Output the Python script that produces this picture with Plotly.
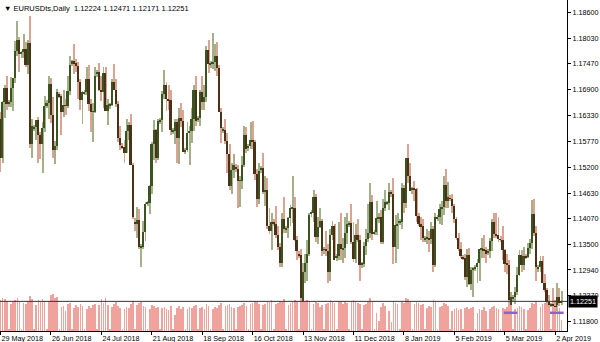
import pandas as pd
import plotly.graph_objects as go

# ---------------- data ----------------
symbol = "EURUSDts,Daily"
# daily bars (Sunday..Friday, broker has short Sunday sessions)
dates = [d for d in pd.date_range("2018-05-29", "2019-04-05", freq="D") if d.weekday() != 5]

opens = [
    1.1625, 1.1540, 1.1663, 1.1693,
    1.1660, 1.1662, 1.1694, 1.1715, 1.1775, 1.1799,
    1.1770, 1.1772, 1.1780, 1.1745, 1.1792, 1.1570,
    1.1605, 1.1608, 1.1624, 1.1590, 1.1570, 1.1605,
    1.1655, 1.1660, 1.1703, 1.1635, 1.1557, 1.1566,
    1.1680, 1.1676, 1.1642, 1.1656, 1.1655, 1.1688,
    1.1748, 1.1752, 1.1748, 1.1743, 1.1706, 1.1667,
    1.1682, 1.1684, 1.1713, 1.1658, 1.1641, 1.1641,
    1.1725, 1.1728, 1.1690, 1.1684, 1.1727, 1.1643,
    1.1655, 1.1657, 1.1707, 1.1690, 1.1659, 1.1585,
    1.1566, 1.1564, 1.1552, 1.1600, 1.1612, 1.1525,
    1.1400, 1.1395, 1.1404, 1.1344, 1.1345, 1.1377,
    1.1440, 1.1442, 1.1478, 1.1570, 1.1601, 1.1540,
    1.1620, 1.1624, 1.1680, 1.1700, 1.1670, 1.1667,
    1.1598, 1.1600, 1.1620, 1.1583, 1.1628, 1.1622,
    1.1555, 1.1558, 1.1595, 1.1600, 1.1625, 1.1690,
    1.1625, 1.1628, 1.1686, 1.1664, 1.1673, 1.1777,
    1.1745, 1.1748, 1.1750, 1.1765, 1.1738, 1.1640,
    1.1600, 1.1602, 1.1578, 1.1548, 1.1478, 1.1514,
    1.1520, 1.1515, 1.1490, 1.1490, 1.1525, 1.1590,
    1.1562, 1.1566, 1.1580, 1.1575, 1.1505, 1.1450,
    1.1515, 1.1518, 1.1465, 1.1470, 1.1390, 1.1380,
    1.1398, 1.1396, 1.1370, 1.1345, 1.1310, 1.1405,
    1.1383, 1.1386, 1.1408, 1.1430, 1.1430, 1.1360,
    1.1330, 1.1326, 1.1218, 1.1290, 1.1310, 1.1330,
    1.1418, 1.1420, 1.1455, 1.1367, 1.1388, 1.1402,
    1.1338, 1.1340, 1.1335, 1.1290, 1.1370, 1.1390,
    1.1320, 1.1325, 1.1350, 1.1340, 1.1342, 1.1375,
    1.1395, 1.1398, 1.1355, 1.1318, 1.1370, 1.1360,
    1.1305, 1.1308, 1.1347, 1.1362, 1.1376, 1.1444,
    1.1375, 1.1378, 1.1408, 1.1410, 1.1355, 1.1430,
    1.1440, 1.1442, 1.1466, 1.1460, 1.1344, 1.1392,
    1.1398, 1.1400, 1.1474, 1.1441, 1.1540, 1.1501,
    1.1470, 1.1472, 1.1471, 1.1412, 1.1394, 1.1390,
    1.1362, 1.1364, 1.1365, 1.1362, 1.1385, 1.1305,
    1.1408, 1.1410, 1.1428, 1.1433, 1.1480, 1.1445,
    1.1452, 1.1450, 1.1435, 1.1406, 1.1364, 1.1340,
    1.1322, 1.1320, 1.1278, 1.1327, 1.1263, 1.1295,
    1.1298, 1.1300, 1.1310, 1.1340, 1.1340, 1.1337,
    1.1332, 1.1335, 1.1357, 1.1400, 1.1373, 1.1370,
    1.1362, 1.1360, 1.1338, 1.1307, 1.1306, 1.1210,
    1.1232, 1.1234, 1.1246, 1.1284, 1.1327, 1.1305,
    1.1325, 1.1322, 1.1343, 1.1353, 1.1418, 1.1375,
    1.1298, 1.1300, 1.1313, 1.1265, 1.1250, 1.1223,
    1.1217, 1.1218, 1.1215, 1.1212, 1.1234, 1.12224,
]
highs = [
    1.1640, 1.1665, 1.1700, 1.1720,
    1.1668, 1.1717, 1.1716, 1.1796, 1.1840, 1.1806,
    1.1776, 1.1812, 1.1795, 1.1800, 1.1852, 1.1625,
    1.1612, 1.1624, 1.1629, 1.1598, 1.1620, 1.1677,
    1.1668, 1.1720, 1.1715, 1.1674, 1.1578, 1.1692,
    1.1686, 1.1680, 1.1690, 1.1670, 1.1720, 1.1765,
    1.1756, 1.1791, 1.1758, 1.1750, 1.1713, 1.1687,
    1.1690, 1.1740, 1.1745, 1.1670, 1.1660, 1.1740,
    1.1733, 1.1748, 1.1720, 1.1740, 1.1740, 1.1670,
    1.1661, 1.1713, 1.1747, 1.1713, 1.1665, 1.1610,
    1.1572, 1.1580, 1.1625, 1.1620, 1.1636, 1.1530,
    1.1408, 1.1433, 1.1428, 1.1350, 1.1402, 1.1444,
    1.1446, 1.1480, 1.1575, 1.1623, 1.1603, 1.1625,
    1.1628, 1.1688, 1.1733, 1.1706, 1.1700, 1.1690,
    1.1606, 1.1625, 1.1625, 1.1650, 1.1660, 1.1645,
    1.1562, 1.1620, 1.1610, 1.1650, 1.1700, 1.1720,
    1.1632, 1.1690, 1.1720, 1.1700, 1.1786, 1.1800,
    1.1752, 1.1815, 1.1790, 1.1795, 1.1745, 1.1650,
    1.1608, 1.1625, 1.1595, 1.1570, 1.1530, 1.1548,
    1.1526, 1.1525, 1.1500, 1.1545, 1.1610, 1.1607,
    1.1570, 1.1620, 1.1621, 1.1580, 1.1515, 1.1530,
    1.1522, 1.1550, 1.1500, 1.1495, 1.1430, 1.1420,
    1.1405, 1.1435, 1.1390, 1.1354, 1.1420, 1.1455,
    1.1390, 1.1410, 1.1437, 1.1500, 1.1455, 1.1368,
    1.1336, 1.1340, 1.1310, 1.1330, 1.1360, 1.1420,
    1.1425, 1.1470, 1.1460, 1.1410, 1.1430, 1.1405,
    1.1345, 1.1380, 1.1350, 1.1385, 1.1402, 1.1394,
    1.1330, 1.1400, 1.1420, 1.1365, 1.1410, 1.1420,
    1.1402, 1.1440, 1.1400, 1.1395, 1.1405, 1.1370,
    1.1312, 1.1355, 1.1385, 1.1440, 1.1486, 1.1458,
    1.1382, 1.1445, 1.1420, 1.1425, 1.1450, 1.1470,
    1.1446, 1.1485, 1.1470, 1.1497, 1.1415, 1.1420,
    1.1405, 1.1485, 1.1480, 1.1540, 1.1570, 1.1530,
    1.1476, 1.1490, 1.1475, 1.1420, 1.1410, 1.1405,
    1.1368, 1.1385, 1.1380, 1.1400, 1.1390, 1.1420,
    1.1415, 1.1440, 1.1445, 1.1500, 1.1515, 1.1488,
    1.1458, 1.1460, 1.1440, 1.1410, 1.1375, 1.1355,
    1.1328, 1.1330, 1.1340, 1.1343, 1.1300, 1.1300,
    1.1305, 1.1318, 1.1340, 1.1365, 1.1370, 1.1345,
    1.1340, 1.1365, 1.1405, 1.1420, 1.1420, 1.1410,
    1.1368, 1.1390, 1.1340, 1.1330, 1.1315, 1.1245,
    1.1238, 1.1256, 1.1300, 1.1338, 1.1337, 1.1345,
    1.1330, 1.1353, 1.1362, 1.1448, 1.1450, 1.1390,
    1.1305, 1.1325, 1.1325, 1.1285, 1.1255, 1.1240,
    1.1222, 1.1255, 1.1228, 1.1265, 1.1255, 1.12471,
]
lows = [
    1.1510, 1.1530, 1.1627, 1.1645,
    1.1652, 1.1653, 1.1643, 1.1704, 1.1764, 1.1728,
    1.1760, 1.1759, 1.1740, 1.1725, 1.1561, 1.1541,
    1.1600, 1.1580, 1.1530, 1.1537, 1.1508, 1.1598,
    1.1650, 1.1626, 1.1616, 1.1540, 1.1527, 1.1558,
    1.1672, 1.1590, 1.1630, 1.1635, 1.1650, 1.1678,
    1.1742, 1.1725, 1.1728, 1.1670, 1.1645, 1.1615,
    1.1678, 1.1679, 1.1644, 1.1596, 1.1575, 1.1638,
    1.1718, 1.1688, 1.1665, 1.1650, 1.1643, 1.1612,
    1.1648, 1.1655, 1.1690, 1.1652, 1.1575, 1.1557,
    1.1560, 1.1530, 1.1550, 1.1580, 1.1526, 1.1405,
    1.1380, 1.1365, 1.1340, 1.1301, 1.1340, 1.1358,
    1.1434, 1.1418, 1.1461, 1.1535, 1.1530, 1.1535,
    1.1615, 1.1598, 1.1670, 1.1643, 1.1645, 1.1590,
    1.1592, 1.1570, 1.1530, 1.1527, 1.1608, 1.1555,
    1.1548, 1.1553, 1.1525, 1.1573, 1.1600, 1.1610,
    1.1618, 1.1610, 1.1645, 1.1645, 1.1662, 1.1726,
    1.1738, 1.1735, 1.1730, 1.1720, 1.1640, 1.1573,
    1.1594, 1.1571, 1.1506, 1.1470, 1.1462, 1.1497,
    1.1510, 1.1430, 1.1432, 1.1472, 1.1520, 1.1550,
    1.1556, 1.1560, 1.1560, 1.1491, 1.1432, 1.1440,
    1.1508, 1.1460, 1.1435, 1.1385, 1.1372, 1.1337,
    1.1390, 1.1364, 1.1337, 1.1300, 1.1300, 1.1375,
    1.1376, 1.1365, 1.1390, 1.1397, 1.1357, 1.1315,
    1.1320, 1.1215, 1.1216, 1.1265, 1.1270, 1.1325,
    1.1410, 1.1400, 1.1355, 1.1350, 1.1386, 1.1325,
    1.1330, 1.1325, 1.1265, 1.1270, 1.1360, 1.1320,
    1.1314, 1.1315, 1.1315, 1.1310, 1.1320, 1.1350,
    1.1388, 1.1350, 1.1311, 1.1310, 1.1355, 1.1269,
    1.1298, 1.1300, 1.1327, 1.1355, 1.1365, 1.1360,
    1.1370, 1.1370, 1.1398, 1.1350, 1.1350, 1.1424,
    1.1436, 1.1425, 1.1455, 1.1308, 1.1310, 1.1340,
    1.1392, 1.1385, 1.1420, 1.1430, 1.1485, 1.1475,
    1.1462, 1.1445, 1.1400, 1.1390, 1.1360, 1.1355,
    1.1356, 1.1350, 1.1333, 1.1350, 1.1290, 1.1300,
    1.1402, 1.1395, 1.1393, 1.1415, 1.1430, 1.1430,
    1.1446, 1.1420, 1.1398, 1.1360, 1.1336, 1.1320,
    1.1315, 1.1273, 1.1257, 1.1260, 1.1250, 1.1234,
    1.1292, 1.1265, 1.1270, 1.1320, 1.1320, 1.1310,
    1.1326, 1.1320, 1.1335, 1.1365, 1.1365, 1.1355,
    1.1355, 1.1315, 1.1290, 1.1285, 1.1200, 1.1202,
    1.1226, 1.1220, 1.1240, 1.1280, 1.1290, 1.1295,
    1.1318, 1.1320, 1.1330, 1.1340, 1.1368, 1.1270,
    1.1290, 1.1290, 1.1265, 1.1245, 1.1210, 1.1213,
    1.1212, 1.1205, 1.1200, 1.1205, 1.1215, 1.12171,
]
closes = [
    1.1540, 1.1663, 1.1693, 1.1658,
    1.1662, 1.1694, 1.1715, 1.1775, 1.1799, 1.1768,
    1.1772, 1.1780, 1.1745, 1.1792, 1.1570, 1.1610,
    1.1608, 1.1624, 1.1590, 1.1570, 1.1605, 1.1655,
    1.1660, 1.1703, 1.1635, 1.1557, 1.1566, 1.1684,
    1.1676, 1.1642, 1.1656, 1.1655, 1.1688, 1.1745,
    1.1752, 1.1748, 1.1743, 1.1706, 1.1667, 1.1686,
    1.1684, 1.1713, 1.1658, 1.1641, 1.1641, 1.1720,
    1.1728, 1.1690, 1.1684, 1.1727, 1.1643, 1.1657,
    1.1657, 1.1707, 1.1690, 1.1659, 1.1585, 1.1568,
    1.1564, 1.1552, 1.1600, 1.1612, 1.1525, 1.1410,
    1.1395, 1.1404, 1.1344, 1.1345, 1.1377, 1.1438,
    1.1442, 1.1478, 1.1570, 1.1601, 1.1540, 1.1622,
    1.1624, 1.1680, 1.1700, 1.1670, 1.1667, 1.1601,
    1.1600, 1.1620, 1.1583, 1.1628, 1.1622, 1.1553,
    1.1558, 1.1595, 1.1600, 1.1625, 1.1690, 1.1622,
    1.1628, 1.1686, 1.1664, 1.1673, 1.1777, 1.1746,
    1.1748, 1.1750, 1.1765, 1.1738, 1.1640, 1.1605,
    1.1602, 1.1578, 1.1548, 1.1478, 1.1514, 1.1524,
    1.1515, 1.1490, 1.1490, 1.1525, 1.1590, 1.1560,
    1.1566, 1.1580, 1.1575, 1.1505, 1.1450, 1.1512,
    1.1518, 1.1465, 1.1470, 1.1390, 1.1380, 1.1400,
    1.1396, 1.1370, 1.1345, 1.1310, 1.1405, 1.1385,
    1.1386, 1.1408, 1.1430, 1.1430, 1.1360, 1.1335,
    1.1326, 1.1218, 1.1290, 1.1310, 1.1330, 1.1415,
    1.1420, 1.1455, 1.1367, 1.1388, 1.1402, 1.1335,
    1.1340, 1.1335, 1.1290, 1.1370, 1.1390, 1.1315,
    1.1325, 1.1350, 1.1340, 1.1342, 1.1375, 1.1395,
    1.1398, 1.1355, 1.1318, 1.1370, 1.1360, 1.1305,
    1.1308, 1.1347, 1.1362, 1.1376, 1.1444, 1.1373,
    1.1378, 1.1408, 1.1410, 1.1355, 1.1430, 1.1443,
    1.1442, 1.1466, 1.1460, 1.1344, 1.1392, 1.1396,
    1.1400, 1.1474, 1.1441, 1.1540, 1.1501, 1.1468,
    1.1472, 1.1471, 1.1412, 1.1394, 1.1390, 1.1365,
    1.1364, 1.1365, 1.1362, 1.1385, 1.1305, 1.1410,
    1.1410, 1.1428, 1.1433, 1.1480, 1.1445, 1.1455,
    1.1450, 1.1435, 1.1406, 1.1364, 1.1340, 1.1325,
    1.1320, 1.1278, 1.1327, 1.1263, 1.1295, 1.1295,
    1.1300, 1.1310, 1.1340, 1.1340, 1.1337, 1.1330,
    1.1335, 1.1357, 1.1400, 1.1373, 1.1370, 1.1362,
    1.1360, 1.1338, 1.1307, 1.1306, 1.1210, 1.1235,
    1.1234, 1.1246, 1.1284, 1.1327, 1.1305, 1.1325,
    1.1322, 1.1343, 1.1353, 1.1418, 1.1375, 1.1300,
    1.1300, 1.1313, 1.1265, 1.1250, 1.1223, 1.1217,
    1.1218, 1.1215, 1.1212, 1.1234, 1.1222, 1.12251,
]
# tick volume, thousands
volumes = [
    93, 99, 96, 90,
    5, 81, 87, 93, 99, 90,
    6, 84, 81, 90, 105, 96,
    5, 78, 93, 87, 96, 90,
    4, 90, 108, 111, 99, 102,
    4, 72, 75, 60, 81, 84,
    5, 69, 78, 72, 81, 75,
    5, 66, 75, 69, 78, 81,
    5, 78, 96, 84, 99, 78,
    4, 72, 81, 87, 75, 69,
    5, 66, 72, 69, 81, 90,
    6, 78, 84, 87, 75, 72,
    5, 66, 78, 75, 69, 72,
    4, 69, 72, 66, 63, 75,
    4, 48, 69, 75, 66, 72,
    5, 66, 72, 69, 75, 78,
    4, 69, 72, 66, 81, 75,
    5, 66, 72, 69, 78, 84,
    5, 75, 78, 81, 72, 69,
    5, 72, 75, 78, 84, 75,
    5, 81, 84, 90, 87, 81,
    5, 78, 81, 90, 87, 93,
    5, 81, 84, 90, 87, 96,
    5, 78, 84, 87, 93, 90,
    6, 99, 90, 87, 93, 90,
    5, 81, 87, 84, 72, 78,
    5, 81, 84, 93, 87, 84,
    5, 90, 87, 81, 90, 84,
    5, 87, 93, 90, 84, 81,
    5, 78, 81, 87, 99, 90,
    4, 54, 30, 72, 84, 75,
    3, 60, 27, 90, 84, 81,
    5, 87, 84, 99, 96, 87,
    5, 81, 87, 84, 78, 81,
    5, 69, 75, 72, 93, 87,
    5, 72, 75, 84, 81, 75,
    4, 60, 66, 69, 63, 66,
    5, 69, 72, 66, 69, 72,
    4, 54, 66, 63, 72, 60,
    5, 66, 72, 75, 69, 66,
    5, 69, 66, 72, 93, 78,
    5, 66, 69, 75, 72, 66,
    4, 63, 69, 84, 81, 90,
    5, 72, 81, 84, 78, 72,
    4, 75, 72, 78, 69, 33,
]

date_labels = ["29 May 2018", "26 Jun 2018", "24 Jul 2018", "21 Aug 2018", "18 Sep 2018",
               "16 Oct 2018", "13 Nov 2018", "11 Dec 2018", "8 Jan 2019", "5 Feb 2019",
               "5 Mar 2019", "2 Apr 2019"]
price_ticks = [1.18600, 1.18030, 1.17470, 1.16900, 1.16330, 1.15770, 1.15200,
               1.14630, 1.14070, 1.13500, 1.12940, 1.12370, 1.11800]
marked_lows = ["2019-03-07", "2019-04-02"]

# ---------------- figure ----------------
idx = list(range(len(dates)))
date_str = [d.strftime("%Y-%m-%d") for d in dates]
label_pos = [date_str.index(pd.to_datetime(t, format="%d %b %Y").strftime("%Y-%m-%d")) for t in date_labels]

up = [c >= o for o, c in zip(opens, closes)]
BODY_UP, BODY_DN = "#3b5320", "#4a3216"
WICK_UP, WICK_DN = "#a3b08a", "#dba392"
VOL = "#f0a29c"
FONT = "Liberation Sans"

fig = go.Figure()
fig.add_trace(go.Bar(x=idx, y=volumes, yaxis="y2", width=0.32,
                     marker=dict(color=VOL, line=dict(width=0)), hoverinfo="skip"))
fig.add_trace(go.Bar(x=idx, y=[h - l for h, l in zip(highs, lows)], base=lows, width=0.45,
                     marker=dict(color=[WICK_UP if u else WICK_DN for u in up], line=dict(width=0)),
                     hoverinfo="skip"))
fig.add_trace(go.Bar(x=idx, y=[max(abs(c - o), 0.00012) for o, c in zip(opens, closes)],
                     base=[min(o, c) for o, c in zip(opens, closes)], width=0.8,
                     marker=dict(color=[BODY_UP if u else BODY_DN for u in up], line=dict(width=0)),
                     hoverinfo="skip"))

shapes = [dict(type="line", xref="paper", x0=0, x1=1, yref="y", y0=closes[-1], y1=closes[-1],
               line=dict(color="#333333", width=1))]
for d in marked_lows:
    i = date_str.index(d)
    shapes.append(dict(type="line", xref="x", x0=i - 2.5, x1=i + 4, yref="y", y0=lows[i], y1=lows[i],
                       line=dict(color="#8a63d2", width=2.5)))

header = f"▼ {symbol}  {opens[-1]:.5f} {highs[-1]:.5f} {lows[-1]:.5f} {closes[-1]:.5f}"
annotations = [
    dict(text=header, xref="paper", yref="paper", x=0, y=1, xanchor="left", yanchor="top",
         xshift=2, yshift=-2, showarrow=False, font=dict(family=FONT, size=7.5, color="black")),
    dict(text=f"{closes[-1]:.5f}", xref="paper", yref="y", x=1, y=closes[-1], xanchor="left",
         yanchor="middle", xshift=1, showarrow=False, bgcolor="black", borderpad=1,
         font=dict(family=FONT, size=7.2, color="white")),
]

fig.update_layout(
    width=600, height=342, margin=dict(l=0, r=33, t=0, b=11),
    paper_bgcolor="white", plot_bgcolor="white", barmode="overlay", bargap=0,
    showlegend=False, shapes=shapes, annotations=annotations,
    font=dict(family=FONT, size=7.2, color="black"),
    xaxis=dict(range=[-0.25, 269.6], tickvals=label_pos, ticktext=date_labels,
               ticks="outside", ticklen=3, tickcolor="black", ticklabelposition="outside right",
               showline=True, linecolor="black", linewidth=1, showgrid=False, zeroline=False,
               tickfont=dict(family=FONT, size=7.2, color="black")),
    yaxis=dict(range=[1.1160, 1.1887], side="right", tickvals=price_ticks,
               ticktext=[f"{t:.5f}" for t in price_ticks], ticks="outside", ticklen=3,
               tickcolor="black", showline=True, linecolor="black", linewidth=1,
               showgrid=False, zeroline=False, tickfont=dict(family=FONT, size=7.2, color="black")),
    yaxis2=dict(range=[0, 993], overlaying="y", visible=False),
)

fig.write_html("out.html")
